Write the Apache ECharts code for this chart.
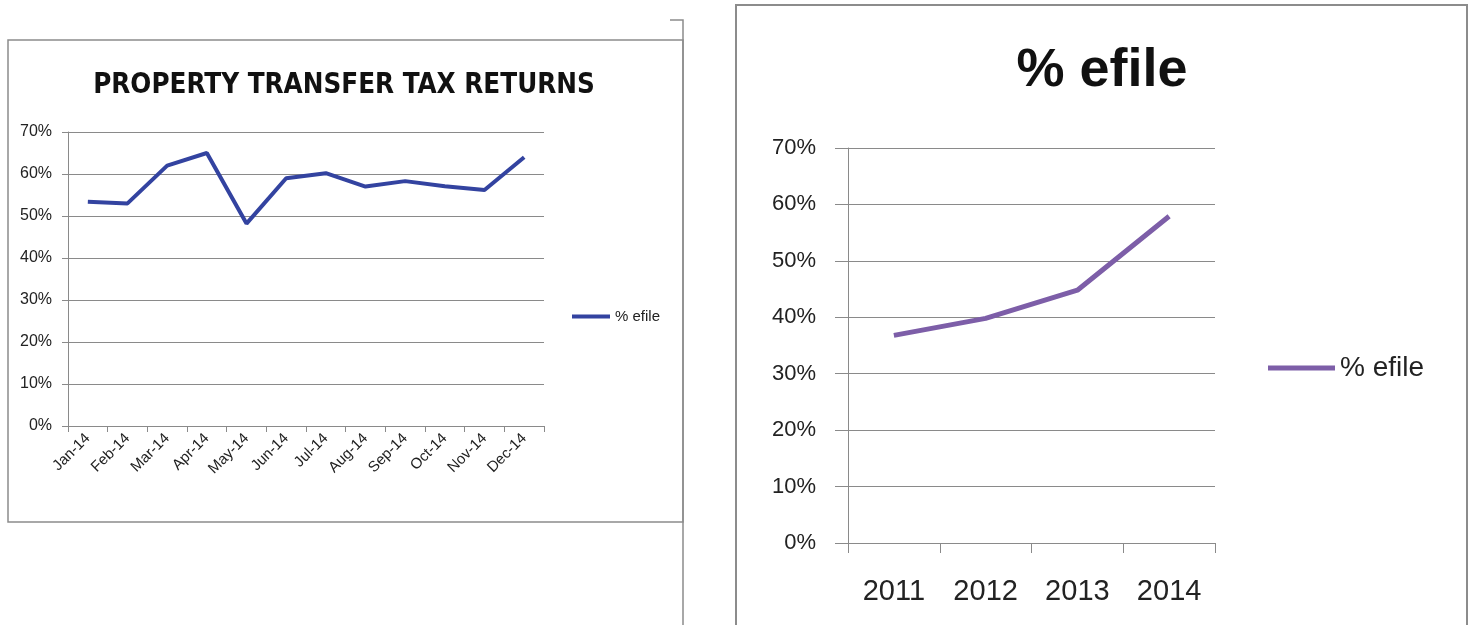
<!DOCTYPE html>
<html>
<head>
<meta charset="utf-8">
<script src="https://cdn.jsdelivr.net/npm/echarts@6/dist/echarts.min.js"></script>
<style>
html,body{margin:0;padding:0;background:#fff;}
#chart{width:1473px;height:625px;}
</style>
</head>
<body>
<div id="chart"></div>
<script>
// ---- Data ----
const monthCategories = ['Jan-14','Feb-14','Mar-14','Apr-14','May-14','Jun-14','Jul-14','Aug-14','Sep-14','Oct-14','Nov-14','Dec-14'];
const monthlyEfile = [53.4, 53.0, 62.0, 65.0, 48.2, 59.0, 60.2, 57.0, 58.3, 57.1, 56.2, 64.0];
const yearCategories = ['2011','2012','2013','2014'];
const yearlyEfile = [36.8, 39.8, 44.8, 57.9];
const leftTitle = 'PROPERTY TRANSFER TAX RETURNS';
const rightTitle = '% efile';
const legendLabel = '% efile';

const font = "'Liberation Sans', Arial, sans-serif";
const narrowFont = "'Liberation Sans Narrow', 'DejaVu Sans Condensed', 'Liberation Sans', sans-serif";
const gridColor = '#8a8a8a';

const chart = echarts.init(document.getElementById('chart'), null, {renderer: 'canvas'});
const pct = v => v + '%';

chart.setOption({
  animation: false,
  backgroundColor: '#fff',
  title: [
    {text: leftTitle, left: 339, top: 67, textAlign: 'center',
     textStyle: {fontFamily: narrowFont, fontSize: 27.5, fontWeight: 'bold', color: '#111'}},
    {text: rightTitle, left: 1097, top: 39, textAlign: 'center',
     textStyle: {fontFamily: font, fontSize: 54, fontWeight: 'bold', color: '#111'}}
  ],
  legend: [
    {data: ['monthly'], left: 567, top: 304, icon: 'rect', itemWidth: 38, itemHeight: 4, itemGap: 4,
     formatter: () => legendLabel,
     textStyle: {fontFamily: font, fontSize: 15, color: '#222'}, selectedMode: false},
    {data: ['yearly'], left: 1263, top: 349, icon: 'rect', itemWidth: 67, itemHeight: 5, itemGap: 4,
     formatter: () => legendLabel,
     textStyle: {fontFamily: font, fontSize: 28, color: '#222'}, selectedMode: false}
  ],
  grid: [
    {left: 68, right: 1473 - 544, top: 132, bottom: 625 - 426},
    {left: 848, right: 1473 - 1215, top: 148, bottom: 625 - 543}
  ],
  xAxis: [
    {type: 'category', gridIndex: 0, data: monthCategories, boundaryGap: true,
     axisLine: {lineStyle: {color: gridColor, width: 1}},
     axisTick: {show: true, length: 6, lineStyle: {color: gridColor}},
     axisLabel: {rotate: 45, fontFamily: font, fontSize: 15, color: '#222', margin: 10, interval: 0}},
    {type: 'category', gridIndex: 1, data: yearCategories, boundaryGap: true,
     axisLine: {lineStyle: {color: gridColor, width: 1}},
     axisTick: {show: true, length: 10, lineStyle: {color: gridColor}},
     axisLabel: {fontFamily: font, fontSize: 29, color: '#222', margin: 34, interval: 0}}
  ],
  yAxis: [
    {type: 'value', gridIndex: 0, min: 0, max: 70, interval: 10,
     axisLine: {show: true, lineStyle: {color: gridColor}},
     axisTick: {show: true, length: 6, lineStyle: {color: gridColor}},
     splitLine: {lineStyle: {color: gridColor, width: 1}},
     axisLabel: {formatter: pct, fontFamily: font, fontSize: 16, color: '#222', margin: 16}},
    {type: 'value', gridIndex: 1, min: 0, max: 70, interval: 10,
     axisLine: {show: true, lineStyle: {color: gridColor}},
     axisTick: {show: true, length: 13, lineStyle: {color: gridColor}},
     splitLine: {lineStyle: {color: gridColor, width: 1}},
     axisLabel: {formatter: pct, fontFamily: font, fontSize: 22, color: '#222', margin: 32}}
  ],
  series: [
    {name: 'monthly', type: 'line', xAxisIndex: 0, yAxisIndex: 0, data: monthlyEfile,
     showSymbol: false, lineStyle: {color: '#3343A0', width: 4}, itemStyle: {color: '#3343A0'}},
    {name: 'yearly', type: 'line', xAxisIndex: 1, yAxisIndex: 1, data: yearlyEfile,
     showSymbol: false, lineStyle: {color: '#7D5EA8', width: 5}, itemStyle: {color: '#7D5EA8'}}
  ],
  graphic: [
    {type: 'rect', shape: {x: 8, y: 40, width: 675, height: 482}, style: {fill: null, stroke: '#8c8c8c', lineWidth: 1.5}, silent: true},
    {type: 'polyline', shape: {points: [[670, 20], [683, 20], [683, 625]]}, style: {fill: null, stroke: '#8c8c8c', lineWidth: 1.5}, silent: true},
    {type: 'rect', shape: {x: 736, y: 5, width: 731, height: 660}, style: {fill: null, stroke: '#8c8c8c', lineWidth: 2}, silent: true}
  ]
});
</script>
</body>
</html>
